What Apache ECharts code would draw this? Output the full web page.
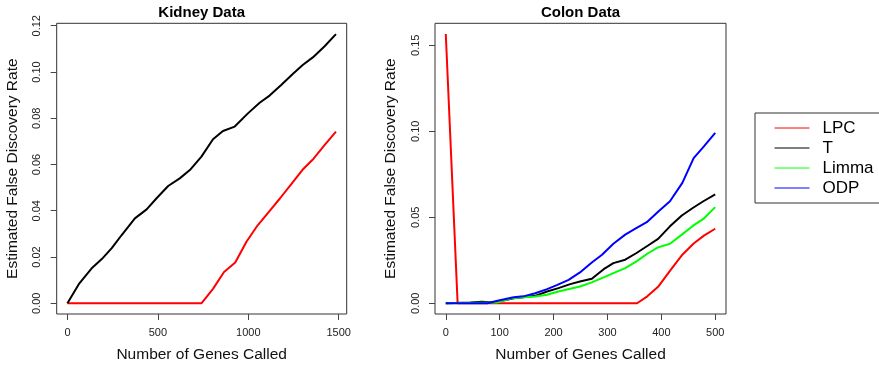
<!DOCTYPE html>
<html>
<head>
<meta charset="utf-8">
<title>Estimated False Discovery Rate</title>
<script src="https://cdn.jsdelivr.net/npm/echarts@6/dist/echarts.min.js"></script>
<style>
  html, body { margin: 0; padding: 0; background: #fff; }
  #chart { width: 879px; height: 370px; }
</style>
</head>
<body>
<div id="chart"></div>
<script>
// Kidney data: number of genes called vs. estimated FDR
const kidneyTGenes = [0, 66, 134, 190, 245, 300, 373, 438, 493, 557, 621, 677, 741, 805, 860, 925, 998, 1063, 1118, 1182, 1246, 1301, 1357, 1421, 1485];
const kidneyTFdr   = [0, 0.0086, 0.0151, 0.0191, 0.0238, 0.0295, 0.0367, 0.0406, 0.0454, 0.0507, 0.054, 0.0576, 0.0634, 0.0709, 0.0745, 0.0764, 0.0821, 0.0867, 0.0898, 0.0944, 0.0991, 0.103, 0.1063, 0.111, 0.1164];
const kidneyLpcGenes = [0, 742, 805, 866, 928, 990, 1052, 1114, 1176, 1238, 1300, 1361, 1423, 1485];
const kidneyLpcFdr   = [0, 0, 0.0062, 0.0135, 0.0176, 0.0266, 0.0337, 0.0395, 0.0454, 0.0515, 0.0577, 0.0625, 0.0685, 0.0742];

// Colon data
const colonLpcGenes = [0, 22, 355, 374, 395, 417, 439, 460, 479, 500];
const colonLpcFdr   = [0.1565, 0, 0, 0.004, 0.0099, 0.0192, 0.0282, 0.0347, 0.0393, 0.0433];
const colonTGenes = [0, 46, 67, 86, 107, 126, 144, 166, 188, 209, 231, 249, 271, 293, 311, 333, 354, 376, 394, 416, 438, 459, 478, 500];
const colonTFdr   = [0, 0.0004, 0.0008, 0.0004, 0.0016, 0.0029, 0.0035, 0.0043, 0.0068, 0.0088, 0.0111, 0.0126, 0.0142, 0.0198, 0.0233, 0.0253, 0.0292, 0.0337, 0.0374, 0.0447, 0.051, 0.0555, 0.0593, 0.0633];
const colonLimmaGenes = [0, 95, 120, 144, 166, 188, 209, 231, 249, 271, 293, 311, 333, 354, 376, 394, 416, 438, 459, 478, 500];
const colonLimmaFdr   = [0, 0.0004, 0.0027, 0.0035, 0.0039, 0.0049, 0.0068, 0.0084, 0.0097, 0.0121, 0.015, 0.0175, 0.0204, 0.0243, 0.0292, 0.0325, 0.0346, 0.0399, 0.0451, 0.049, 0.0559];
const colonOdpGenes = [0, 77, 98, 126, 144, 166, 188, 206, 228, 249, 271, 290, 311, 333, 351, 373, 395, 416, 439, 460, 479, 500];
const colonOdpFdr   = [0, 0, 0.0016, 0.0035, 0.004, 0.0058, 0.0082, 0.0105, 0.0136, 0.0179, 0.0237, 0.0282, 0.0346, 0.0399, 0.0432, 0.0471, 0.0535, 0.0593, 0.070, 0.0844, 0.0912, 0.099];

// Tick positions
const kidneyXTicks = [0, 500, 1000, 1500];
const kidneyYTicks = [0, 0.02, 0.04, 0.06, 0.08, 0.10, 0.12];
const colonXTicks = [0, 100, 200, 300, 400, 500];
const colonYTicks = [0, 0.05, 0.10, 0.15];

const methodNames = ['LPC', 'T', 'Limma', 'ODP'];
const methodColors = { LPC: '#ff0000', T: '#000000', Limma: '#00ff00', ODP: '#0000ff' };

const pairs = (xs, ys) => xs.map((x, i) => [x, ys[i]]);

// R-style 4% padding around the data range
const pad = (lo, hi) => { const r = hi - lo; return [lo - 0.04 * r, hi + 0.04 * r]; };
const kX = pad(0, 1485), kY = pad(0, 0.1164);
const cX = pad(0, 500), cY = pad(0, 0.1565);

const FONT = '"Liberation Sans", Arial, Helvetica, sans-serif';

function xAxis(gridIndex, range, ticks) {
  return {
    type: 'value', gridIndex, min: range[0], max: range[1],
    name: 'Number of Genes Called', nameLocation: 'middle', nameGap: 33,
    nameTextStyle: { fontFamily: FONT, fontSize: 15.5, color: '#111' },
    axisLine: { show: false, onZero: false },
    axisTick: { show: true, inside: false, length: 6, customValues: ticks, lineStyle: { color: '#444', width: 1 } },
    axisLabel: { customValues: ticks, margin: 13, fontFamily: FONT, fontSize: 11, color: '#222',
                 formatter: v => String(v) },
    splitLine: { show: false }
  };
}
function yAxis(gridIndex, range, ticks) {
  return {
    type: 'value', gridIndex, min: range[0], max: range[1],
    name: 'Estimated False Discovery Rate', nameLocation: 'middle', nameGap: 36,
    nameTextStyle: { fontFamily: FONT, fontSize: 15.5, color: '#111' },
    axisLine: { show: false, onZero: false },
    axisTick: { show: true, inside: false, length: 6, customValues: ticks, lineStyle: { color: '#444', width: 1 } },
    axisLabel: { customValues: ticks, rotate: 90, margin: 14, fontFamily: FONT, fontSize: 11, color: '#222',
                 formatter: v => v.toFixed(2) },
    splitLine: { show: false }
  };
}
function line(name, data, gi) {
  return {
    type: 'line', name, data, xAxisIndex: gi, yAxisIndex: gi,
    symbol: 'none', animation: false, silent: true,
    lineStyle: { color: methodColors[name], width: 2 },
    itemStyle: { color: methodColors[name] }
  };
}

const chart = echarts.init(document.getElementById('chart'), null, { renderer: 'canvas' });
chart.setOption({
  animation: false,
  backgroundColor: '#ffffff',
  title: [
    { text: 'Kidney Data', left: 201.7, top: 5, textAlign: 'center', padding: 0,
      textStyle: { fontFamily: FONT, fontSize: 15, fontWeight: 'bold', color: '#000' } },
    { text: 'Colon Data', left: 580.5, top: 5, textAlign: 'center', padding: 0,
      textStyle: { fontFamily: FONT, fontSize: 15, fontWeight: 'bold', color: '#000' } }
  ],
  grid: [
    { left: 56.7, top: 23.3, width: 290, height: 290.7, show: true, borderColor: '#333', borderWidth: 1, backgroundColor: 'transparent' },
    { left: 435, top: 23.3, width: 291, height: 290.7, show: true, borderColor: '#333', borderWidth: 1, backgroundColor: 'transparent' }
  ],
  xAxis: [xAxis(0, kX, kidneyXTicks), xAxis(1, cX, colonXTicks)],
  yAxis: [yAxis(0, kY, kidneyYTicks), yAxis(1, cY, colonYTicks)],
  legend: {
    data: methodNames, orient: 'vertical', left: 755, top: 113,
    padding: [5, 6, 5, 19], itemWidth: 35, itemHeight: 20, itemGap: 0,
    borderColor: '#333', borderWidth: 1,
    lineStyle: { width: 1 },
    itemStyle: { opacity: 0 },
    textStyle: { fontFamily: FONT, fontSize: 17, color: '#000', lineHeight: 20, padding: [0, 0, 0, 8] },
    selectedMode: false
  },
  series: [
    line('LPC', pairs(kidneyLpcGenes, kidneyLpcFdr), 0),
    line('T', pairs(kidneyTGenes, kidneyTFdr), 0),
    line('LPC', pairs(colonLpcGenes, colonLpcFdr), 1),
    line('T', pairs(colonTGenes, colonTFdr), 1),
    line('Limma', pairs(colonLimmaGenes, colonLimmaFdr), 1),
    line('ODP', pairs(colonOdpGenes, colonOdpFdr), 1)
  ]
});
</script>
</body>
</html>
